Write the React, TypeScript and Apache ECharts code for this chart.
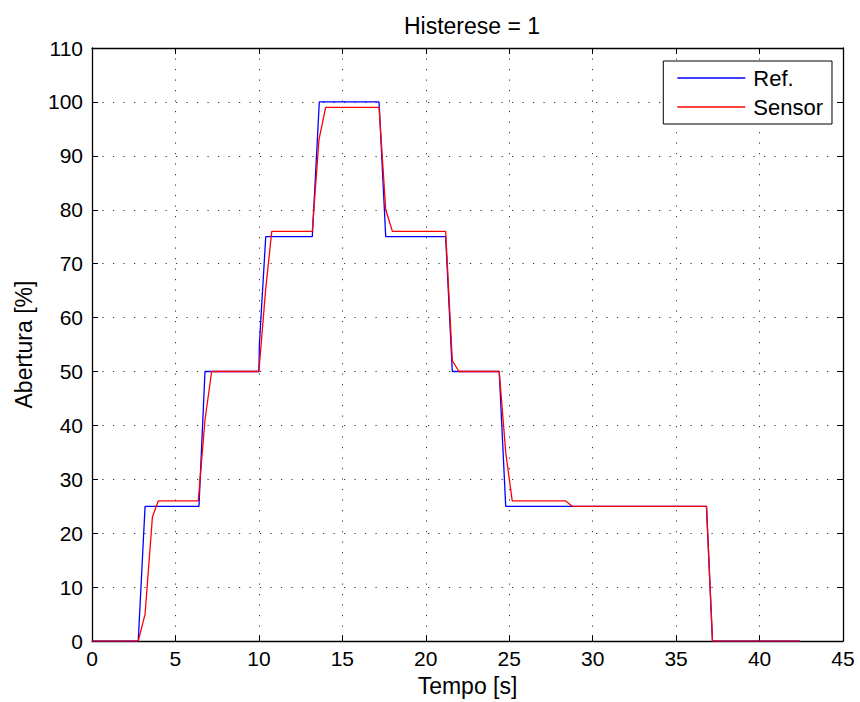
import React, { useEffect, useRef } from "react";
import * as echarts from "echarts";

const refTime = [0, 2.77, 3.18, 6.41, 6.77, 10.0, 10.03, 10.41, 13.2, 13.62, 17.2, 17.6, 21.19, 21.59, 24.4, 24.79, 36.82, 37.18, 42.42];
const refValue = [0, 0, 25, 25, 50, 50, 55, 75, 75, 100, 100, 75, 75, 50, 50, 25, 25, 0, 0];

const sensorTime = [0, 2.77, 3.18, 3.62, 3.97, 6.37, 6.77, 7.17, 10.0, 10.4, 10.77, 13.2, 13.6, 14.0, 17.2, 17.6, 18.0, 21.19, 21.59, 21.99, 24.4, 24.79, 25.18, 28.38, 28.78, 36.82, 37.18, 42.42];
const sensorValue = [0, 0, 5, 23, 26, 26, 41, 50, 50, 65, 76, 76, 93, 99, 99, 80, 76, 76, 52, 50, 50, 35, 26, 26, 25, 25, 0, 0];

const seriesNames = ["Ref.", "Sensor"];
const titleText = "Histerese = 1";
const xName = "Tempo [s]";
const yName = "Abertura [%]";

const font = "Liberation Sans, Arial, sans-serif";
const fs = 21;
const fsName = 23;
const fsLegend = 22;

export default function App() {
  const ref = useRef<HTMLDivElement>(null);
  useEffect(() => {
    if (!ref.current) return;
    const chart = echarts.init(ref.current, null, { renderer: "svg" });
    const pair = (t: number[], v: number[]) => t.map((x, i) => [x, v[i]]);
    const tick = { show: true, inside: true, length: 6, lineStyle: { color: "#000", width: 1 } };
    const axisLine = { show: true, onZero: false, lineStyle: { color: "#000", width: 1.3 } };
    const grid = { show: true, lineStyle: { color: "#333", width: 1, type: [1.2, 9.3] as any } };
    chart.setOption({
      animation: false,
      backgroundColor: "#fff",
      textStyle: { fontFamily: font },
      title: {
        text: titleText,
        left: 467,
        textAlign: "center",
        top: 9,
        textStyle: { fontFamily: font, fontSize: fsName, fontWeight: "normal", color: "#000" },
      },
      grid: { left: 92, right: 17, top: 48, bottom: 60, containLabel: false },
      legend: {
        orient: "vertical",
        right: 28,
        top: 61,
        itemWidth: 68,
        itemHeight: 24,
        itemGap: 5,
        padding: [5, 9, 5, 14],
        borderColor: "#000",
        borderWidth: 1,
        backgroundColor: "#fff",
        icon: "path://M0,0L68,0L68,1.3L0,1.3Z",
        textStyle: { fontFamily: font, fontSize: fsLegend, color: "#000", lineHeight: 24, padding: [0, 0, 0, 3] },
        data: seriesNames,
      },
      xAxis: [
        {
          type: "value",
          min: 0,
          max: 45,
          interval: 5,
          name: xName,
          nameLocation: "middle",
          nameGap: 31,
          nameTextStyle: { fontFamily: font, fontSize: fsName, color: "#000" },
          axisLine,
          axisTick: tick,
          axisLabel: { fontFamily: font, fontSize: fs, color: "#000", margin: 7 },
          splitLine: grid,
        },
        {
          type: "value",
          position: "top",
          min: 0,
          max: 45,
          interval: 5,
          axisLine,
          axisTick: tick,
          axisLabel: { show: false },
          splitLine: { show: false },
        },
      ],
      yAxis: [
        {
          type: "value",
          min: 0,
          max: 110,
          interval: 10,
          name: yName,
          nameLocation: "middle",
          nameGap: 57,
          nameTextStyle: { fontFamily: font, fontSize: fsName, color: "#000" },
          axisLine,
          axisTick: tick,
          axisLabel: { fontFamily: font, fontSize: fs, color: "#000", margin: 9 },
          splitLine: grid,
        },
        {
          type: "value",
          position: "right",
          min: 0,
          max: 110,
          interval: 10,
          axisLine,
          axisTick: tick,
          axisLabel: { show: false },
          splitLine: { show: false },
        },
      ],
      series: [
        {
          name: seriesNames[0],
          type: "line",
          data: pair(refTime, refValue),
          showSymbol: false,
          symbol: "none",
          lineStyle: { color: "#0000ff", width: 1.3 },
          itemStyle: { color: "#0000ff" },
        },
        {
          name: seriesNames[1],
          type: "line",
          data: pair(sensorTime, sensorValue),
          showSymbol: false,
          symbol: "none",
          lineStyle: { color: "#ff0000", width: 1.3 },
          itemStyle: { color: "#ff0000" },
        },
      ],
    });
    return () => chart.dispose();
  }, []);
  return <div ref={ref} style={{ width: 860, height: 702, position: "absolute", left: 0, top: 0 }} />;
}
